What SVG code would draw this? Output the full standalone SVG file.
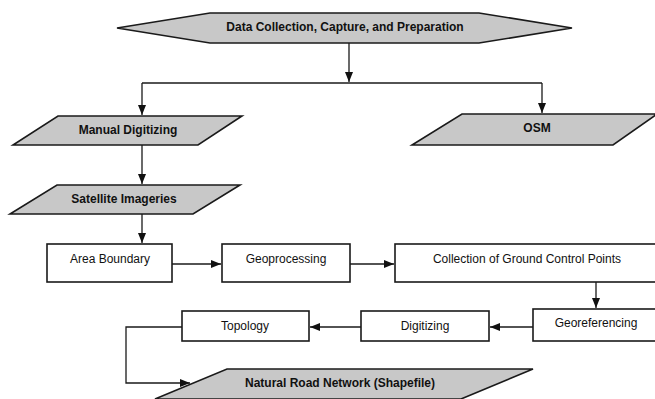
<svg xmlns="http://www.w3.org/2000/svg" width="655" height="399" viewBox="0 0 655 399">
<style>
.io{fill:#c8c8c8;stroke:#1a1a1a;stroke-width:1.6;stroke-linejoin:miter}
.box{fill:#fff;stroke:#1a1a1a;stroke-width:1.6}
.lb{font-family:"Liberation Sans",Arial,sans-serif;font-size:12px;font-weight:bold;fill:#111;text-anchor:middle}
.lr{font-family:"Liberation Sans",Arial,sans-serif;font-size:12px;fill:#111;text-anchor:middle}
.c{fill:none;stroke:#1a1a1a;stroke-width:1.3}
</style>
<defs>
<marker id="ah" markerUnits="userSpaceOnUse" markerWidth="10" markerHeight="10" viewBox="0 0 10 10" refX="10" refY="5" orient="auto">
<path d="M0,1 L10,5 L0,9 Z" fill="#111"/>
</marker>
</defs>
<rect width="655" height="399" fill="#fff"/>
<g id="connectors">
<path class="c" d="M349,43 V82" marker-end="url(#ah)"/>
<path class="c" d="M142,83 H542"/>
<path class="c" d="M142,83 V115" marker-end="url(#ah)"/>
<path class="c" d="M542,83 V113" marker-end="url(#ah)"/>
<path class="c" d="M142,145 V184" marker-end="url(#ah)"/>
<path class="c" d="M142,214 V243" marker-end="url(#ah)"/>
<path class="c" d="M172,264 H221" marker-end="url(#ah)"/>
<path class="c" d="M350,264 H394" marker-end="url(#ah)"/>
<path class="c" d="M596,282 V308" marker-end="url(#ah)"/>
<path class="c" d="M533,327 H490" marker-end="url(#ah)"/>
<path class="c" d="M361,327 H310" marker-end="url(#ah)"/>
<path class="c" d="M182,327 H126 V383 H190" marker-end="url(#ah)"/>
</g>
<g id="data-collection">
<polygon class="io" points="117,28 210,13 479,13 572,28 479,43 210,43"/>
<text class="lb" x="345" y="31">Data Collection, Capture, and Preparation</text>
</g>
<g id="manual-digitizing">
<polygon class="io" points="58,116 242,116 198,145 13,145"/>
<text class="lb" x="128" y="134">Manual Digitizing</text>
</g>
<g id="osm">
<polygon class="io" points="462,114 657,114 613,145 412,145"/>
<text class="lb" x="537" y="132">OSM</text>
</g>
<g id="satellite-imageries">
<polygon class="io" points="57,185 240,185 193,214 10,214"/>
<text class="lb" x="124" y="203">Satellite Imageries</text>
</g>
<g id="area-boundary">
<rect class="box" x="47" y="244" width="125" height="38"/>
<text class="lr" x="110" y="263">Area Boundary</text>
</g>
<g id="geoprocessing">
<rect class="box" x="222" y="244" width="128" height="38"/>
<text class="lr" x="286" y="263">Geoprocessing</text>
</g>
<g id="ground-control-points">
<rect class="box" x="395" y="244" width="264" height="38"/>
<text class="lr" x="527" y="263">Collection of Ground Control Points</text>
</g>
<g id="georeferencing">
<rect class="box" x="533" y="309" width="126" height="32"/>
<text class="lr" x="596" y="327">Georeferencing</text>
</g>
<g id="digitizing">
<rect class="box" x="361" y="311" width="128" height="30"/>
<text class="lr" x="425" y="330">Digitizing</text>
</g>
<g id="topology">
<rect class="box" x="182" y="311" width="127" height="30"/>
<text class="lr" x="245" y="330">Topology</text>
</g>
<g id="natural-road-network">
<polygon class="io" points="227,369 533,369 461,399 155,399"/>
<text class="lb" x="340" y="387">Natural Road Network (Shapefile)</text>
</g>
</svg>
